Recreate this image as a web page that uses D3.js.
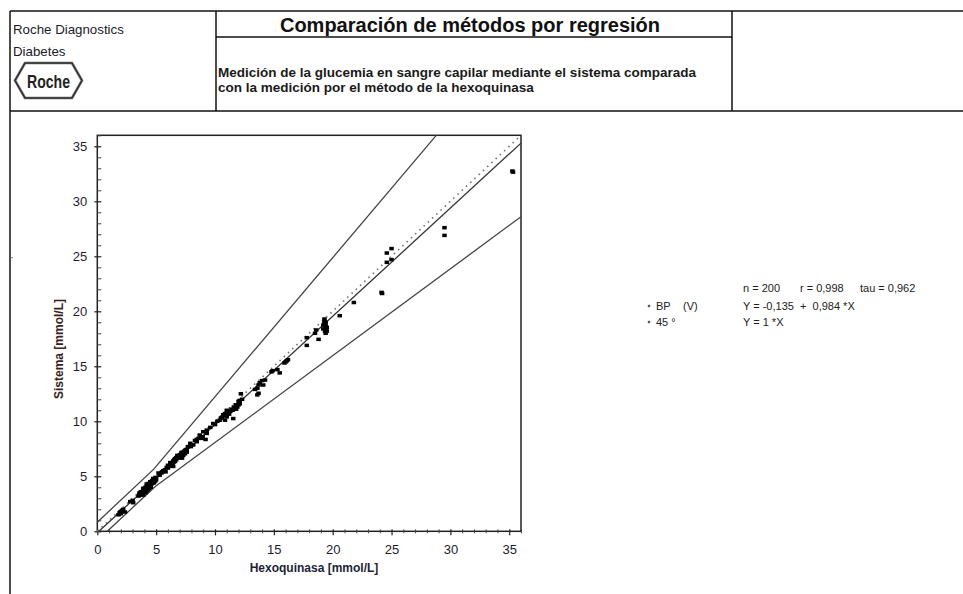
<!DOCTYPE html>
<html><head><meta charset="utf-8">
<script src="https://cdn.jsdelivr.net/npm/d3@7"></script>
<style>
body{margin:0;background:#fff}
svg{display:block;font-family:"Liberation Sans",Arial,Helvetica,sans-serif}
</style>
</head><body>
<svg id="c" width="963" height="594"></svg>
<script>
// ---------- data ----------
const xTicks = [0,5,10,15,20,25,30,35];
const yTicks = [0,5,10,15,20,25,30,35];
const xTitle = "Hexoquinasa [mmol/L]";
const yTitle = "Sistema [mmol/L]";
const headerTitle = "Comparación de métodos por regresión";
const headerSub = ["Medición de la glucemia en sangre capilar mediante el sistema comparada",
                   "con la medición por el método de la hexoquinasa"];
const company = ["Roche Diagnostics","Diabetes"];
const statsText = ["n = 200","r = 0,998","tau = 0,962"];
const legendNames = ["BP","(V)","45 °"];
const legendEq = ["Y = -0,135  +  0,984 *X","Y = 1 *X"];

// (hexoquinasa, sistema) pairs
const measurements = [
 [1.8,1.5],[1.9,1.7],[2.0,1.8],[2.0,1.6],[2.2,2.0],[2.35,1.75],[2.1,1.9],[2.8,2.7],[3.0,2.8],[3.05,2.6],
 [3.5,3.2],[3.55,3.3],[3.6,3.4],[3.7,3.4],[3.7,3.6],[3.75,3.3],[3.8,3.6],[3.85,3.5],[3.9,3.3],[3.9,3.7],
 [3.95,3.8],[4.0,3.6],[4.0,3.9],[4.05,3.75],[4.1,3.5],[4.1,4.0],[4.15,3.8],[4.2,3.9],[4.2,4.1],[4.25,3.7],
 [4.3,4.0],[4.3,4.2],[4.35,4.05],[4.35,4.35],[4.4,3.9],[4.4,4.3],[4.45,4.1],[4.5,4.2],[4.5,4.5],[4.55,4.0],
 [4.6,4.5],[4.6,4.3],[4.65,4.6],[4.7,4.4],[4.75,4.8],[4.8,4.6],[4.85,4.5],[4.9,4.8],[4.95,4.9],[5.0,4.7],
 [5.2,5.3],[5.3,5.1],[5.45,5.3],[5.5,5.4],[5.6,5.5],[5.75,5.6],[5.8,5.4],[5.9,5.8],[6.0,5.75],[6.0,6.0],
 [6.1,5.9],[6.2,6.1],[6.3,6.2],[6.35,6.0],[6.45,5.9],[6.45,6.4],[6.5,6.3],[6.6,6.35],[6.6,6.6],[6.7,6.5],
 [6.8,6.65],[6.8,6.9],[6.9,6.7],[7.0,6.95],[7.0,6.7],[7.1,7.0],[7.2,6.65],[7.2,7.1],[7.25,7.2],[7.3,6.9],
 [7.4,7.3],[7.5,7.4],[7.6,7.2],[7.7,7.7],
 [7.9,8.0],[7.95,7.7],[8.15,7.85],[8.3,8.25],[8.45,8.15],[8.45,8.35],[8.6,8.45],[8.7,8.75],[8.9,8.45],[8.95,8.6],
 [9.0,9.05],[9.2,8.35],[9.3,9.2],[9.3,8.9],[9.6,9.45],
 [9.85,9.8],[10.0,9.7],[10.4,10.1],[10.5,10.3],[10.6,10.35],[10.8,10.5],[10.85,10.7],[10.85,10.1],[11.0,11.0],[11.0,10.4],
 [11.2,10.65],[11.3,10.9],[11.5,11.0],[11.55,10.25],[11.7,11.2],[11.8,11.5],[11.9,11.3],[12.0,11.8],[12.1,11.6],[12.1,11.9],
 [12.2,12.5],[12.3,12.0],
 [13.4,12.9],[13.6,13.0],[13.6,12.4],[13.7,13.3],[13.7,12.55],[13.8,13.5],[14.0,13.7],[14.1,13.3],[14.25,13.75],[14.8,14.5],
 [14.9,14.6],[15.3,14.7],[15.5,14.4],[15.9,15.3],[16.0,15.4],[16.1,15.5],[16.2,15.6],
 [17.8,17.6],[17.8,16.9],[18.6,18.3],[18.8,17.45],[19.2,18.75],[19.3,19.3],[19.4,19.0],[19.4,18.7],[19.4,18.4],[19.5,18.2],
 [19.4,18.0],[19.3,19.1],[19.5,18.5],
 [20.6,19.6],[21.8,20.8],
 [24.15,21.72],[24.2,21.62],[24.6,24.45],[24.6,25.3],[25.0,25.7],[25.0,24.7],
 [29.5,27.6],[29.5,26.9],
 [35.27,32.75],[35.32,32.65],
 [3.6,3.5],[3.8,3.4],[3.9,3.9],[4.0,3.8],[4.1,3.7],[4.2,4.3],[4.25,4.0],[4.3,3.85],[4.4,4.15],[4.5,4.35],
 [4.55,4.5],[4.7,4.6],[4.8,4.4],[4.85,4.75],[4.95,4.6],
 [6.2,6.25],[6.4,6.2],[6.55,6.5],[6.7,6.7],[6.9,6.85],[7.05,6.85],[7.15,7.15],[7.3,7.1],[7.45,7.05],[7.6,7.45],
 [10.2,10.0],[10.7,10.6],[11.1,10.8],[11.4,11.1],[11.6,11.3],[11.8,11.1],[12.0,11.5],
 [19.2,18.4],[19.3,18.9],[19.45,18.6],[19.35,18.2],[18.5,18.0]
];
// line vertices
const upperLimit = [[0,0.83],[4.8,5.65],[28.8,36]];
const lowerLimit = [[0.85,0],[4.9,4.05],[36,28.6]];
const regression = [[0.14,0],[36,35.29]];
const identity = [[0,0],[36,36]];
const domainMax = 36;

// ---------- drawing ----------
const svg = d3.select("#c");
const ink = "#111";

// header frame
const hdr = svg.append("g").attr("stroke", ink).attr("stroke-width", 1.5).attr("fill","none");
hdr.append("line").attr("x1",10).attr("x2",963).attr("y1",11).attr("y2",11);
hdr.append("line").attr("x1",10).attr("x2",963).attr("y1",111).attr("y2",111);
hdr.append("line").attr("x1",10).attr("x2",10).attr("y1",11).attr("y2",594);
hdr.append("line").attr("x1",216).attr("x2",216).attr("y1",11).attr("y2",111);
hdr.append("line").attr("x1",732).attr("x2",732).attr("y1",11).attr("y2",111);
hdr.append("line").attr("x1",216).attr("x2",732).attr("y1",37).attr("y2",37);

svg.append("text").attr("x",13).attr("y",34).attr("font-size",13.3).attr("fill","#1a1a2a").text(company[0]);
svg.append("text").attr("x",13).attr("y",56).attr("font-size",13.3).attr("fill","#1a1a2a").text(company[1]);

// Roche logo
const logo = svg.append("g");
logo.append("path").attr("d","M15,80.5 L25,63 L72,63 L82,80.5 L72,98 L25,98 Z")
  .attr("fill","none").attr("stroke","#666").attr("stroke-width",2.6);
logo.append("path").attr("d","M15,80.5 L25,63 L72,63 L82,80.5 L72,98 L25,98 Z")
  .attr("fill","none").attr("stroke","#222").attr("stroke-width",1);
logo.append("text").attr("x",48.5).attr("y",87.5).attr("text-anchor","middle")
  .attr("font-size",19).attr("font-weight","bold").attr("fill","#222")
  .attr("textLength",43).attr("lengthAdjust","spacingAndGlyphs").text("Roche");

svg.append("text").attr("x",470).attr("y",31.5).attr("text-anchor","middle")
  .attr("font-size",20).attr("font-weight","bold").attr("fill",ink).text(headerTitle);
headerSub.forEach((t,i)=>svg.append("text").attr("x",218).attr("y",76.5+i*15)
  .attr("font-size",13.5).attr("font-weight","bold").attr("fill","#1a1a1a").text(t));

svg.append("rect").attr("x",11.5).attr("y",257).attr("width",1.2).attr("height",1.2).attr("fill","#555");

// scales
const x = d3.scaleLinear().domain([0,domainMax]).range([97.3,521]);
const y = d3.scaleLinear().domain([0,domainMax]).range([531.3,135.3]);

const plot = svg.append("g");
plot.append("rect").attr("x",x(0)).attr("y",y(domainMax)).attr("width",x(domainMax)-x(0)).attr("height",y(0)-y(domainMax))
  .attr("fill","none").attr("stroke","#222").attr("stroke-width",1.5);

// minor ticks
const minor = d3.range(0,domainMax+1).filter(v=>v%5!==0);
const yAx = plot.append("g").attr("transform",`translate(${x(0)},0)`)
  .call(d3.axisLeft(y).tickValues(minor).tickSize(0).tickFormat(""));
yAx.selectAll(".tick line").attr("x1",0).attr("x2",4).attr("stroke","#444");
yAx.select(".domain").remove();
const xAx = plot.append("g").attr("transform",`translate(0,${y(0)})`)
  .call(d3.axisBottom(x).tickValues(minor).tickSize(0).tickFormat(""));
xAx.selectAll(".tick line").attr("y1",-2).attr("y2",2).attr("stroke","#444");
xAx.select(".domain").remove();

// major ticks
const yMaj = plot.append("g").attr("transform",`translate(${x(0)},0)`)
  .call(d3.axisLeft(y).tickValues(yTicks).tickSize(3).tickPadding(7));
yMaj.select(".domain").remove();
yMaj.selectAll(".tick line").attr("x1",4).attr("x2",-3).attr("stroke","#222").attr("stroke-width",1.2);
yMaj.selectAll(".tick text").attr("font-size",13).attr("fill","#1c1c30");
const xMaj = plot.append("g").attr("transform",`translate(0,${y(0)})`)
  .call(d3.axisBottom(x).tickValues(xTicks).tickSize(4).tickPadding(9));
xMaj.select(".domain").remove();
xMaj.selectAll(".tick line").attr("y1",-2).attr("y2",4).attr("stroke","#222").attr("stroke-width",1.2);
xMaj.selectAll(".tick text").attr("font-size",13).attr("fill","#1c1c30");
svg.selectAll(".tick text").style("font-family",'"Liberation Sans",Arial,sans-serif');

// lines
const line = d3.line().x(d=>x(d[0])).y(d=>y(d[1]));
plot.append("path").datum(identity).attr("d",line).attr("fill","none")
  .attr("stroke","#777").attr("stroke-width",1.6).attr("stroke-dasharray","1.6,4.2");
[upperLimit,lowerLimit].forEach(d=>plot.append("path").datum(d).attr("d",line)
  .attr("fill","none").attr("stroke","#444").attr("stroke-width",1.3));
plot.append("path").datum(regression).attr("d",line).attr("fill","none")
  .attr("stroke","#333").attr("stroke-width",1.3);

// points
plot.append("g").selectAll("rect").data(measurements).join("rect")
  .attr("x",d=>x(d[0])-2.25).attr("y",d=>y(d[1])-1.75).attr("width",4.5).attr("height",3.5).attr("fill","#000");

// axis titles
svg.append("text").attr("x",314).attr("y",572).attr("text-anchor","middle")
  .attr("font-size",12).attr("font-weight","bold").attr("fill","#1c1f3a").text(xTitle);
svg.append("text").attr("transform","translate(63,349) rotate(-90)").attr("text-anchor","middle")
  .attr("font-size",12).attr("font-weight","bold").attr("fill","#3a1e18").text(yTitle);

// stats / legend
const lg = svg.append("g").attr("font-size",11).attr("fill","#222");
[[743,statsText[0]],[800,statsText[1]],[860,statsText[2]]].forEach(([px,t])=>
  lg.append("text").attr("x",px).attr("y",292).text(t));
lg.append("circle").attr("cx",649).attr("cy",306).attr("r",1.3).attr("fill","#555");
lg.append("circle").attr("cx",649).attr("cy",322).attr("r",1.3).attr("fill","#555");
lg.append("text").attr("x",656).attr("y",309.5).text(legendNames[0]);
lg.append("text").attr("x",683).attr("y",309.5).text(legendNames[1]);
lg.append("text").attr("x",656).attr("y",325.5).text(legendNames[2]);
legendEq.forEach((t,i)=>lg.append("text").attr("x",743).attr("y",309.5+i*16).attr("xml:space","preserve")
  .style("white-space","pre").text(t));
</script>
</body></html>
